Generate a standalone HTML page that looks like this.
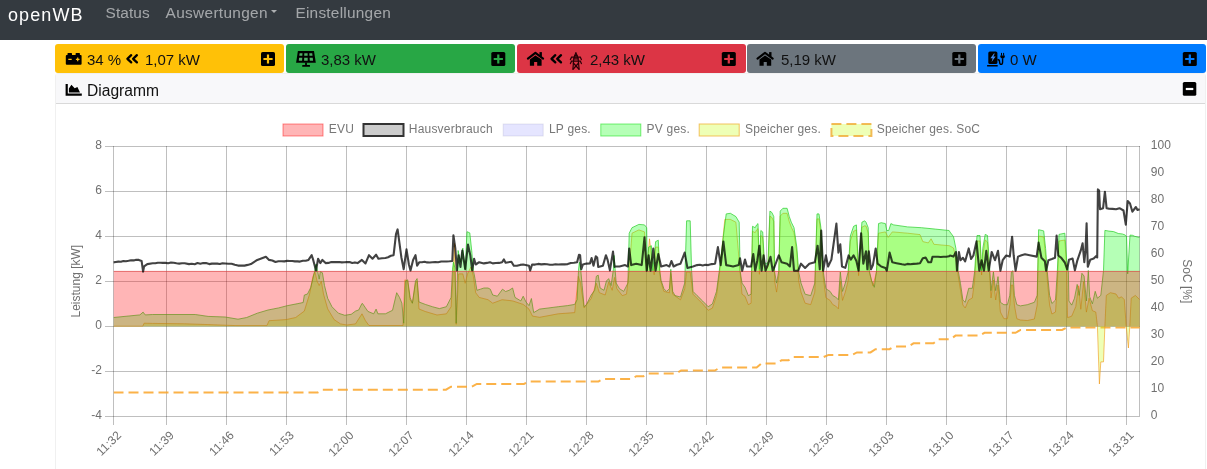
<!DOCTYPE html>
<html><head><meta charset="utf-8">
<style>
html,body{margin:0;padding:0;background:#fff;}
body{width:1207px;height:469px;overflow:hidden;position:relative;font-family:"Liberation Sans",Arial,sans-serif;}
.nav{position:absolute;left:0;top:0;width:1207px;height:40px;background:#343a40;}
.brand{position:absolute;left:8px;top:4px;font-size:18px;line-height:22px;letter-spacing:1.1px;color:#fff;}
.nl{position:absolute;top:3.4px;font-size:15.4px;line-height:20px;color:rgba(255,255,255,.55);}
.caret{position:absolute;left:271.1px;top:10.4px;width:0;height:0;border-left:3.85px solid transparent;border-right:3.85px solid transparent;border-top:3.8px solid rgba(255,255,255,.6);}
.box{position:absolute;top:44px;height:29px;border-radius:3px;}
.bt{position:absolute;top:6px;font-size:15px;line-height:18px;color:#111;white-space:nowrap;}
.ic{position:absolute;}
.card{position:absolute;left:55px;top:73px;width:1149px;height:400px;border:1px solid #f0f0f0;border-radius:3px;background:#fff;}
.ch{position:absolute;left:0;top:0;width:1149px;height:29px;background:#f8f8fa;border-bottom:1px solid #d9d9d9;}
.cht{position:absolute;left:31px;top:7px;font-size:15.6px;line-height:20px;color:#111;}
svg text{font-family:"Liberation Sans",Arial,sans-serif;}
#chart,.nav,.bt,.card{will-change:transform;}
</style></head>
<body>
<div class="nav">
  <div class="brand">openWB</div>
  <div class="nl" style="left:105.6px;letter-spacing:0.1px">Status</div>
  <div class="nl" style="left:165.6px;letter-spacing:0.32px">Auswertungen</div>
  <div class="caret"></div>
  <div class="nl" style="left:295.4px;letter-spacing:0.25px">Einstellungen</div>
</div>

<!-- boxes -->
<div class="box" style="left:55px;width:229px;background:#ffc107"></div>
<div class="box" style="left:285.5px;width:229.5px;background:#28a745"></div>
<div class="box" style="left:516.5px;width:229px;background:#dc3545"></div>
<div class="box" style="left:747px;width:229px;background:#6c757d"></div>
<div class="box" style="left:977.5px;width:228.8px;background:#007bff"></div>

<div class="bt" style="left:86.5px;top:50.5px">34 %</div>
<div class="bt" style="left:144.5px;top:50.5px">1,07 kW</div>
<div class="bt" style="left:320.5px;top:50.5px">3,83 kW</div>
<div class="bt" style="left:589.5px;top:50.5px">2,43 kW</div>
<div class="bt" style="left:780.5px;top:50.5px">5,19 kW</div>
<div class="bt" style="left:1010px;top:50.5px">0 W</div>

<div class="card">
  <div class="ch"><div class="cht">Diagramm</div></div>
</div>

<svg id="icons" width="1207" height="469" viewBox="0 0 1207 469" style="position:absolute;left:0;top:0">
  <!-- battery -->
  <g fill="#000">
    <rect x="65.8" y="55" width="15.8" height="9.7" rx="1"/>
    <rect x="67.5" y="53.1" width="4.5" height="2.6" rx="0.6"/>
    <rect x="75.6" y="53.1" width="4.3" height="2.6" rx="0.6"/>
  </g>
  <path d="M68.3 59.4h3.4M75.9 59.4h3.6M77.7 57.6v3.6" stroke="#ffc107" stroke-width="1.2"/>
  <!-- double angle left -->
  <path d="M131.2 55.2L127.4 58.8L131.2 62.4M136.9 55.2L133.1 58.8L136.9 62.4" stroke="#000" stroke-width="2.3" fill="none" stroke-linecap="round" stroke-linejoin="round"/>
  <!-- solar panel -->
  <path d="M297.9 51.1H314L315.8 62.8H296.1Z" fill="#000"/>
  <g fill="#4caf63">
    <path d="M299.6 53.2h2.9l-0.2 2.6h-3z"/><path d="M304.3 53.2h3.3v2.6h-3.4z"/><path d="M309.3 53.2h2.9l0.3 2.6h-3.1z"/>
    <path d="M299.1 57.8h3.2l-0.2 3h-3.3z"/><path d="M304.2 57.8h3.5v3h-3.6z"/><path d="M309.6 57.8h3.1l0.4 3h-3.3z"/>
  </g>
  <rect x="305.1" y="62.5" width="1.8" height="2.8" fill="#000"/>
  <rect x="302.2" y="64.9" width="7.8" height="1.9" rx="0.5" fill="#000"/>
  <!-- house (red box) -->
  <g>
    <path d="M527.9 58.6L535.4 52.9L543.1 58.6" stroke="#000" stroke-width="2.1" fill="none" stroke-linecap="round" stroke-linejoin="round"/>
    <rect x="539.5" y="52.1" width="2.4" height="4.6" fill="#000"/>
    <path d="M529.9 59.6L535.4 55.4L541.6 59.6V65.7H537.2V62.1H534.1V65.7H529.9Z" fill="#000"/>
  </g>
  <path d="M555.3 55.2L551.5 58.8L555.3 62.4M561 55.2L557.2 58.8L561 62.4" stroke="#000" stroke-width="2.3" fill="none" stroke-linecap="round" stroke-linejoin="round"/>
  <!-- pylon -->
  <g stroke="#2a0006" stroke-width="1.2" fill="none" stroke-linecap="round">
    <path d="M575.9 52.6L573.8 58.5L572.9 69.3M575.9 52.6L578.1 58.5L579.1 69.3"/>
    <path d="M574.6 55.3h2.6M574.2 57h3.4M573.9 58.8h4.1"/>
    <path d="M570.4 59.6L571.6 57.2H580.3L581.4 59.6"/>
    <path d="M570.4 63.6L571.6 61.2H580.3L581.4 63.6"/>
    <path d="M573.3 63L578.8 69M578.6 63L573.3 69"/>
  </g>
  <!-- house (gray box) -->
  <g transform="translate(229.6 0)">
    <path d="M527.9 58.6L535.4 52.9L543.1 58.6" stroke="#000" stroke-width="2.1" fill="none" stroke-linecap="round" stroke-linejoin="round"/>
    <rect x="539.5" y="52.1" width="2.4" height="4.6" fill="#000"/>
    <path d="M529.9 59.6L535.4 55.4L541.6 59.6V65.7H537.2V62.1H534.1V65.7H529.9Z" fill="#000"/>
  </g>
  <!-- charging station -->
  <g fill="#000">
    <rect x="988.3" y="51.4" width="9.1" height="12.6" rx="1.6"/>
    <rect x="987.1" y="65" width="10.6" height="1.5"/>
    <path d="M1000.3 55.4H1004.8V56.6Q1004.8 58.6 1002.6 58.6Q1000.3 58.6 1000.3 56.6Z"/>
    <rect x="1001" y="52.9" width="1" height="2.8"/><rect x="1003.1" y="52.9" width="1" height="2.8"/>
  </g>
  <path d="M993.9 53.4L990.4 58.3H992.6L991.6 61.9L995.6 56.6H993.4L994.8 53.4Z" fill="#3d8af0"/>
  <path d="M997.4 59.5Q999.6 59.5 999.6 62Q999.6 64.4 1001.1 64.4Q1002.6 64.4 1002.6 62V58.3" stroke="#000" stroke-width="1.4" fill="none"/>
  <!-- chart-area icon -->
  <path d="M65.6 84h2.2v9.6h14v2.1h-16.2z" fill="#000"/>
  <path d="M68.9 92.5V88.4L71.4 84.8L74.7 88.3L77.4 86.9L80 92.5Z" fill="#000"/>
  <!-- plus squares -->
  <g fill="#000">
    <rect x="261" y="52" width="14" height="14" rx="1.6"/>
    <rect x="491.3" y="52" width="14" height="14" rx="1.6"/>
    <rect x="721.8" y="52" width="14" height="14" rx="1.6"/>
    <rect x="952.3" y="52" width="14" height="14" rx="1.6"/>
    <rect x="1182.8" y="52" width="14" height="14" rx="1.6"/>
    <rect x="1182.8" y="82" width="13.5" height="13.8" rx="1.6"/>
  </g>
  <g stroke-width="2.2">
    <path d="M268 54.6v8.8M263.4 59h9.2" stroke="#ffc107"/>
    <path d="M498.3 54.6v8.8M493.7 59h9.2" stroke="#28a745"/>
    <path d="M728.8 54.6v8.8M724.2 59h9.2" stroke="#dc3545"/>
    <path d="M959.3 54.6v8.8M954.7 59h9.2" stroke="#6c757d"/>
    <path d="M1189.8 54.6v8.8M1185.2 59h9.2" stroke="#007bff"/>
    <path d="M1185.8 89h7.5" stroke="#fff"/>
  </g>
</svg>

<svg id="chart" width="1207" height="469" viewBox="0 0 1207 469" style="position:absolute;left:0;top:0">
<g stroke="rgba(0,0,0,0.25)" stroke-width="1" fill="none" shape-rendering="crispEdges">
<path d="M104.5 146.2H1139.8"/>
<path d="M104.5 191.2H1139.8"/>
<path d="M104.5 236.2H1139.8"/>
<path d="M104.5 281.2H1139.8"/>
<path d="M104.5 326.2H1139.8"/>
<path d="M104.5 371.2H1139.8"/>
<path d="M104.5 416.2H1139.8"/>
<path d="M113.6 146.2V424.5"/>
<path d="M166.4 146.2V424.5"/>
<path d="M226.4 146.2V424.5"/>
<path d="M286.4 146.2V424.5"/>
<path d="M346.3 146.2V424.5"/>
<path d="M406.3 146.2V424.5"/>
<path d="M466.3 146.2V424.5"/>
<path d="M526.3 146.2V424.5"/>
<path d="M586.3 146.2V424.5"/>
<path d="M646.2 146.2V424.5"/>
<path d="M706.2 146.2V424.5"/>
<path d="M766.2 146.2V424.5"/>
<path d="M826.2 146.2V424.5"/>
<path d="M886.2 146.2V424.5"/>
<path d="M946.1 146.2V424.5"/>
<path d="M1006.1 146.2V424.5"/>
<path d="M1066.1 146.2V424.5"/>
<path d="M1126.1 146.2V424.5"/>
<path d="M1139.8 146.2V416.2"/>
</g>
<defs><clipPath id="plotclip"><rect x="113.5" y="140" width="1027.3" height="280"/></clipPath></defs><g clip-path="url(#plotclip)">
<path d="M113.5 392.4 L317.8 392.4 L322.8 389.7 L446.0 389.7 L451.0 386.7 L471.8 386.7 L476.8 383.9 L524.0 383.9 L529.0 381.5 L598.5 381.5 L603.5 378.9 L631.4 378.9 L636.4 376.2 L643.5 376.2 L648.5 373.5 L676.1 373.5 L681.1 370.5 L714.9 370.5 L719.9 367.6 L756.6 367.6 L761.6 363.4 L776.5 363.4 L781.5 360.3 L788.5 360.3 L793.5 357.1 L823.5 357.1 L828.5 354.9 L852.0 354.9 L857.0 352.4 L870.5 352.4 L875.5 349.2 L889.5 349.2 L894.5 346.4 L908.5 346.4 L913.5 343.3 L933.5 343.3 L938.5 339.2 L950.5 339.2 L955.5 335.6 L979.5 335.6 L984.5 332.8 L1015.5 332.8 L1020.5 330.0 L1062.1 330.0 L1067.1 327.5 L1139.8 327.5" fill="none" stroke="rgba(250,165,40,0.85)" stroke-width="2" stroke-dasharray="10 5"/>
<path d="M113.5,326.2 L113.5,326.2 142.8,326.2 144.1,323.2 152.7,323.4 184.7,323.8 206.0,324.5 227.3,325.3 236.0,325.6 266.9,325.6 269.1,320.7 286.1,319.6 295.7,317.5 304.3,311.1 309.6,294.0 312.8,276.9 314.9,271.6 317.1,281.2 319.2,285.5 321.3,281.2 323.5,294.0 327.7,308.9 334.1,319.6 340.5,323.9 346.9,325.0 355.5,323.9 362.0,313.8 365.5,320.8 369.0,325.5 403.0,325.5 404.9,279.8 407.7,281.0 410.1,299.7 412.4,303.2 415.5,283.3 417.1,281.0 419.0,309.0 425.3,311.5 437.0,315.0 446.4,313.8 451.1,306.8 453.0,276.3 454.6,243.4 456.2,324.3 458.6,273.9 462.8,273.9 465.2,283.3 467.5,273.9 471.0,266.9 473.4,276.3 475.7,292.7 479.2,297.4 488.0,299.7 492.7,303.2 502.1,299.7 512.6,300.9 523.2,304.4 529.0,309.1 532.5,316.1 539.6,317.3 558.3,313.8 574.7,312.6 578.3,276.3 580.6,283.3 584.1,307.9 591.2,298.5 596.3,283.3 599.4,292.7 605.2,295.0 608.7,282.1 612.2,290.3 614.6,277.4 616.8,288.7 622.3,295.6 626.5,294.2 629.2,270.7 632.0,233.2 638.9,229.9 644.5,231.9 646.7,270.7 649.5,238.8 651.4,255.4 654.2,274.8 655.6,247.1 658.3,247.1 660.5,280.4 663.9,291.4 669.4,292.8 670.8,273.4 672.7,294.2 680.5,299.8 684.7,288.7 686.6,272.0 690.2,272.0 693.0,294.2 702.7,303.9 708.2,310.3 712.4,308.1 716.5,295.6 719.3,274.8 724.8,219.4 730.4,219.4 735.9,222.2 740.1,272.0 742.0,294.2 745.0,296.3 748.3,304.6 751.1,303.2 752.5,231.3 755.2,232.7 756.6,229.9 758.0,228.6 759.4,274.3 760.8,235.5 762.7,236.9 764.4,267.0 766.3,269.0 768.0,267.0 769.9,216.1 771.9,217.5 773.8,221.6 774.6,281.0 776.6,292.1 778.8,275.7 780.2,216.1 782.9,213.3 787.1,213.3 789.3,221.6 791.3,227.2 794.0,232.7 796.8,252.1 798.7,281.0 801.0,292.1 805.1,303.2 810.7,304.6 814.8,292.1 817.0,218.9 819.0,218.9 820.9,232.7 823.1,275.7 825.9,297.7 830.1,300.4 832.8,304.6 835.6,306.0 838.4,308.8 840.3,281.0 842.5,300.4 845.3,292.1 848.1,281.0 850.3,241.0 853.6,231.3 856.4,229.9 858.6,275.7 861.9,227.2 864.7,225.8 866.0,226.0 868.2,233.0 869.3,272.0 872.9,285.9 876.5,272.0 878.5,233.2 885.4,231.9 888.2,237.4 892.3,231.9 907.6,233.2 920.0,234.6 922.8,241.6 928.3,242.9 931.1,238.8 933.9,244.3 949.1,245.7 950.0,246.0 953.5,248.0 955.9,258.0 958.2,276.0 960.5,290.0 962.9,305.0 965.2,308.0 968.7,300.0 972.3,298.0 974.6,280.0 977.0,241.0 980.0,241.0 981.6,275.0 982.8,255.0 985.2,240.0 987.5,242.0 989.8,276.0 991.0,298.0 993.4,280.0 995.7,300.0 998.0,285.0 1000.4,312.0 1003.9,318.7 1007.4,318.7 1009.8,305.0 1011.4,285.0 1012.8,285.0 1014.4,305.0 1016.8,318.7 1020.3,320.0 1027.3,320.5 1034.4,319.0 1037.2,305.0 1038.6,236.0 1043.7,237.0 1045.6,256.0 1047.3,280.0 1049.6,305.0 1051.9,314.0 1055.5,312.0 1057.3,285.0 1059.0,241.0 1064.8,240.0 1066.7,268.0 1067.5,317.6 1071.7,316.2 1075.8,306.5 1078.6,285.8 1080.8,309.3 1083.6,281.6 1086.4,312.1 1089.1,298.2 1092.4,310.7 1095.8,312.1 1097.4,325.9 1099.4,384.0 1100.8,361.9 1103.5,361.9 1104.9,325.9 1106.3,295.4 1110.4,292.7 1116.0,294.0 1118.7,298.2 1121.5,296.8 1124.3,299.6 1126.2,325.9 1128.4,348.0 1129.8,325.9 1131.2,298.2 1135.4,295.4 1139.6,299.6 L1139.6,326.2 Z" fill="rgba(200,255,13,0.3)"/>
<polyline points="113.5,326.2 142.8,326.2 144.1,323.2 152.7,323.4 184.7,323.8 206.0,324.5 227.3,325.3 236.0,325.6 266.9,325.6 269.1,320.7 286.1,319.6 295.7,317.5 304.3,311.1 309.6,294.0 312.8,276.9 314.9,271.6 317.1,281.2 319.2,285.5 321.3,281.2 323.5,294.0 327.7,308.9 334.1,319.6 340.5,323.9 346.9,325.0 355.5,323.9 362.0,313.8 365.5,320.8 369.0,325.5 403.0,325.5 404.9,279.8 407.7,281.0 410.1,299.7 412.4,303.2 415.5,283.3 417.1,281.0 419.0,309.0 425.3,311.5 437.0,315.0 446.4,313.8 451.1,306.8 453.0,276.3 454.6,243.4 456.2,324.3 458.6,273.9 462.8,273.9 465.2,283.3 467.5,273.9 471.0,266.9 473.4,276.3 475.7,292.7 479.2,297.4 488.0,299.7 492.7,303.2 502.1,299.7 512.6,300.9 523.2,304.4 529.0,309.1 532.5,316.1 539.6,317.3 558.3,313.8 574.7,312.6 578.3,276.3 580.6,283.3 584.1,307.9 591.2,298.5 596.3,283.3 599.4,292.7 605.2,295.0 608.7,282.1 612.2,290.3 614.6,277.4 616.8,288.7 622.3,295.6 626.5,294.2 629.2,270.7 632.0,233.2 638.9,229.9 644.5,231.9 646.7,270.7 649.5,238.8 651.4,255.4 654.2,274.8 655.6,247.1 658.3,247.1 660.5,280.4 663.9,291.4 669.4,292.8 670.8,273.4 672.7,294.2 680.5,299.8 684.7,288.7 686.6,272.0 690.2,272.0 693.0,294.2 702.7,303.9 708.2,310.3 712.4,308.1 716.5,295.6 719.3,274.8 724.8,219.4 730.4,219.4 735.9,222.2 740.1,272.0 742.0,294.2 745.0,296.3 748.3,304.6 751.1,303.2 752.5,231.3 755.2,232.7 756.6,229.9 758.0,228.6 759.4,274.3 760.8,235.5 762.7,236.9 764.4,267.0 766.3,269.0 768.0,267.0 769.9,216.1 771.9,217.5 773.8,221.6 774.6,281.0 776.6,292.1 778.8,275.7 780.2,216.1 782.9,213.3 787.1,213.3 789.3,221.6 791.3,227.2 794.0,232.7 796.8,252.1 798.7,281.0 801.0,292.1 805.1,303.2 810.7,304.6 814.8,292.1 817.0,218.9 819.0,218.9 820.9,232.7 823.1,275.7 825.9,297.7 830.1,300.4 832.8,304.6 835.6,306.0 838.4,308.8 840.3,281.0 842.5,300.4 845.3,292.1 848.1,281.0 850.3,241.0 853.6,231.3 856.4,229.9 858.6,275.7 861.9,227.2 864.7,225.8 866.0,226.0 868.2,233.0 869.3,272.0 872.9,285.9 876.5,272.0 878.5,233.2 885.4,231.9 888.2,237.4 892.3,231.9 907.6,233.2 920.0,234.6 922.8,241.6 928.3,242.9 931.1,238.8 933.9,244.3 949.1,245.7 950.0,246.0 953.5,248.0 955.9,258.0 958.2,276.0 960.5,290.0 962.9,305.0 965.2,308.0 968.7,300.0 972.3,298.0 974.6,280.0 977.0,241.0 980.0,241.0 981.6,275.0 982.8,255.0 985.2,240.0 987.5,242.0 989.8,276.0 991.0,298.0 993.4,280.0 995.7,300.0 998.0,285.0 1000.4,312.0 1003.9,318.7 1007.4,318.7 1009.8,305.0 1011.4,285.0 1012.8,285.0 1014.4,305.0 1016.8,318.7 1020.3,320.0 1027.3,320.5 1034.4,319.0 1037.2,305.0 1038.6,236.0 1043.7,237.0 1045.6,256.0 1047.3,280.0 1049.6,305.0 1051.9,314.0 1055.5,312.0 1057.3,285.0 1059.0,241.0 1064.8,240.0 1066.7,268.0 1067.5,317.6 1071.7,316.2 1075.8,306.5 1078.6,285.8 1080.8,309.3 1083.6,281.6 1086.4,312.1 1089.1,298.2 1092.4,310.7 1095.8,312.1 1097.4,325.9 1099.4,384.0 1100.8,361.9 1103.5,361.9 1104.9,325.9 1106.3,295.4 1110.4,292.7 1116.0,294.0 1118.7,298.2 1121.5,296.8 1124.3,299.6 1126.2,325.9 1128.4,348.0 1129.8,325.9 1131.2,298.2 1135.4,295.4 1139.6,299.6" fill="none" stroke="rgba(240,150,20,0.6)" stroke-width="1"/>
<path d="M113.5,326.2 L113.5,317.5 139.9,314.9 143.1,312.1 145.2,314.9 152.7,314.5 195.3,314.5 208.1,316.4 225.2,317.0 238.0,319.2 246.7,317.5 257.3,313.2 268.0,310.0 278.7,307.9 287.2,305.7 297.9,303.6 303.2,302.5 304.3,295.1 307.5,294.0 310.7,287.6 312.8,279.1 314.5,271.6 316.0,264.1 317.7,271.6 319.2,279.1 320.3,271.6 322.4,272.7 324.5,285.5 327.7,298.3 332.0,306.8 338.4,313.2 344.8,315.3 351.2,314.3 355.5,311.1 358.7,310.0 361.9,303.6 362.5,303.5 365.5,307.9 367.9,311.4 373.7,313.8 376.1,309.1 377.9,313.8 385.4,313.8 392.5,310.3 396.7,292.7 399.5,297.4 401.9,303.2 403.7,323.2 405.4,281.0 407.7,279.8 410.1,297.4 412.4,303.2 415.5,281.0 417.1,278.6 419.0,302.0 425.3,304.4 432.3,306.7 439.4,308.6 446.4,306.7 451.1,297.4 452.5,269.2 453.4,262.2 455.0,268.0 456.2,323.2 458.1,250.5 460.5,262.2 462.8,248.1 465.2,269.2 467.0,231.7 469.8,232.9 471.7,250.5 473.4,270.4 475.0,278.6 476.9,290.3 480.4,289.2 483.9,288.0 488.0,288.0 490.3,289.2 492.7,295.0 497.4,296.2 502.5,289.2 505.6,291.5 509.1,290.3 512.6,288.0 515.0,297.4 520.8,300.9 523.2,296.2 526.0,302.0 529.0,305.6 531.4,298.5 533.7,312.6 539.6,309.1 549.0,307.9 558.3,306.7 567.7,305.6 574.7,304.4 577.1,299.7 578.5,270.4 579.4,262.2 580.8,270.4 582.2,285.6 584.1,306.7 586.5,304.4 591.2,295.0 594.7,290.3 596.3,276.3 598.2,275.1 600.1,288.0 604.0,290.3 606.4,281.0 608.7,278.6 611.1,285.6 613.4,269.2 614.0,255.4 616.2,283.1 619.5,288.7 623.7,291.4 627.9,283.1 629.2,233.2 632.0,227.7 638.9,224.4 644.5,224.9 646.7,227.7 647.3,270.7 648.6,247.1 651.4,245.7 652.8,270.7 655.6,241.6 658.3,240.2 659.7,270.7 661.1,280.4 663.9,288.7 666.6,291.4 669.4,288.7 670.8,269.3 672.7,291.4 675.0,295.6 680.5,297.0 684.7,283.1 686.6,220.8 690.2,220.8 691.6,270.7 693.0,291.4 697.1,295.6 702.7,301.1 708.2,306.7 712.4,303.9 716.5,291.4 719.3,270.7 723.4,236.0 726.2,213.9 730.4,213.3 735.9,216.6 739.2,222.2 740.1,270.7 742.0,283.1 745.0,287.3 748.3,295.6 751.1,294.2 752.5,226.3 755.2,227.7 756.6,224.9 758.0,223.6 759.4,269.3 760.8,230.5 762.7,231.9 764.4,262.0 766.3,264.0 768.0,262.0 769.9,211.1 771.9,212.5 773.8,216.6 774.6,272.0 776.6,283.1 778.8,270.7 780.2,211.1 782.9,208.3 787.1,208.3 789.3,216.6 791.3,222.2 794.0,227.7 796.8,247.1 798.7,272.0 801.0,283.1 805.1,294.2 810.7,295.6 814.8,283.1 817.0,213.9 819.0,213.9 820.9,227.7 823.1,270.7 825.9,288.7 830.1,291.4 832.8,295.6 835.6,297.0 838.4,299.8 840.3,272.0 842.5,291.4 845.3,283.1 848.1,272.0 850.3,236.0 853.6,226.3 856.4,224.9 858.6,270.7 861.9,222.2 864.7,220.8 866.0,222.2 868.2,227.7 869.3,270.7 871.5,280.4 874.3,287.3 876.5,270.7 878.5,223.6 881.2,222.7 885.4,223.6 886.8,230.5 888.7,230.5 890.9,223.6 893.7,224.9 907.6,226.9 921.4,227.7 935.3,229.1 949.1,230.5 950.0,232.0 953.5,236.7 955.9,248.4 958.2,270.7 960.5,283.6 962.9,300.0 965.2,302.3 968.7,288.3 972.3,288.3 974.6,271.9 977.0,235.5 980.0,235.5 981.6,270.7 982.8,248.4 985.2,234.4 987.5,235.5 989.8,270.7 991.0,290.6 993.4,271.9 995.7,290.6 998.0,276.6 1000.4,302.3 1003.9,304.7 1007.4,304.7 1009.8,295.3 1011.4,271.9 1012.8,270.7 1014.4,295.3 1016.8,304.7 1020.3,305.9 1027.3,304.7 1034.4,302.3 1037.2,295.3 1038.6,229.7 1043.7,230.9 1045.6,248.4 1047.3,271.9 1049.6,295.3 1051.9,303.5 1055.5,300.0 1057.3,271.9 1059.0,234.4 1064.8,233.2 1066.7,260.2 1068.4,271.9 1068.9,301.0 1071.7,305.1 1074.5,298.2 1077.2,284.4 1079.2,295.4 1081.9,273.3 1084.1,276.1 1086.4,301.0 1088.3,270.5 1089.7,296.8 1092.4,303.8 1095.2,291.3 1097.4,298.2 1100.8,295.4 1103.5,270.5 1104.9,230.4 1108.9,231.1 1113.6,231.6 1118.3,233.5 1122.5,234.0 1125.3,235.1 1126.5,236.3 1127.7,273.8 1130.0,235.1 1132.5,235.3 1134.7,236.3 1139.6,237.5 L1139.6,326.2 Z" fill="rgba(10,255,13,0.3)"/>
<polyline points="113.5,317.5 139.9,314.9 143.1,312.1 145.2,314.9 152.7,314.5 195.3,314.5 208.1,316.4 225.2,317.0 238.0,319.2 246.7,317.5 257.3,313.2 268.0,310.0 278.7,307.9 287.2,305.7 297.9,303.6 303.2,302.5 304.3,295.1 307.5,294.0 310.7,287.6 312.8,279.1 314.5,271.6 316.0,264.1 317.7,271.6 319.2,279.1 320.3,271.6 322.4,272.7 324.5,285.5 327.7,298.3 332.0,306.8 338.4,313.2 344.8,315.3 351.2,314.3 355.5,311.1 358.7,310.0 361.9,303.6 362.5,303.5 365.5,307.9 367.9,311.4 373.7,313.8 376.1,309.1 377.9,313.8 385.4,313.8 392.5,310.3 396.7,292.7 399.5,297.4 401.9,303.2 403.7,323.2 405.4,281.0 407.7,279.8 410.1,297.4 412.4,303.2 415.5,281.0 417.1,278.6 419.0,302.0 425.3,304.4 432.3,306.7 439.4,308.6 446.4,306.7 451.1,297.4 452.5,269.2 453.4,262.2 455.0,268.0 456.2,323.2 458.1,250.5 460.5,262.2 462.8,248.1 465.2,269.2 467.0,231.7 469.8,232.9 471.7,250.5 473.4,270.4 475.0,278.6 476.9,290.3 480.4,289.2 483.9,288.0 488.0,288.0 490.3,289.2 492.7,295.0 497.4,296.2 502.5,289.2 505.6,291.5 509.1,290.3 512.6,288.0 515.0,297.4 520.8,300.9 523.2,296.2 526.0,302.0 529.0,305.6 531.4,298.5 533.7,312.6 539.6,309.1 549.0,307.9 558.3,306.7 567.7,305.6 574.7,304.4 577.1,299.7 578.5,270.4 579.4,262.2 580.8,270.4 582.2,285.6 584.1,306.7 586.5,304.4 591.2,295.0 594.7,290.3 596.3,276.3 598.2,275.1 600.1,288.0 604.0,290.3 606.4,281.0 608.7,278.6 611.1,285.6 613.4,269.2 614.0,255.4 616.2,283.1 619.5,288.7 623.7,291.4 627.9,283.1 629.2,233.2 632.0,227.7 638.9,224.4 644.5,224.9 646.7,227.7 647.3,270.7 648.6,247.1 651.4,245.7 652.8,270.7 655.6,241.6 658.3,240.2 659.7,270.7 661.1,280.4 663.9,288.7 666.6,291.4 669.4,288.7 670.8,269.3 672.7,291.4 675.0,295.6 680.5,297.0 684.7,283.1 686.6,220.8 690.2,220.8 691.6,270.7 693.0,291.4 697.1,295.6 702.7,301.1 708.2,306.7 712.4,303.9 716.5,291.4 719.3,270.7 723.4,236.0 726.2,213.9 730.4,213.3 735.9,216.6 739.2,222.2 740.1,270.7 742.0,283.1 745.0,287.3 748.3,295.6 751.1,294.2 752.5,226.3 755.2,227.7 756.6,224.9 758.0,223.6 759.4,269.3 760.8,230.5 762.7,231.9 764.4,262.0 766.3,264.0 768.0,262.0 769.9,211.1 771.9,212.5 773.8,216.6 774.6,272.0 776.6,283.1 778.8,270.7 780.2,211.1 782.9,208.3 787.1,208.3 789.3,216.6 791.3,222.2 794.0,227.7 796.8,247.1 798.7,272.0 801.0,283.1 805.1,294.2 810.7,295.6 814.8,283.1 817.0,213.9 819.0,213.9 820.9,227.7 823.1,270.7 825.9,288.7 830.1,291.4 832.8,295.6 835.6,297.0 838.4,299.8 840.3,272.0 842.5,291.4 845.3,283.1 848.1,272.0 850.3,236.0 853.6,226.3 856.4,224.9 858.6,270.7 861.9,222.2 864.7,220.8 866.0,222.2 868.2,227.7 869.3,270.7 871.5,280.4 874.3,287.3 876.5,270.7 878.5,223.6 881.2,222.7 885.4,223.6 886.8,230.5 888.7,230.5 890.9,223.6 893.7,224.9 907.6,226.9 921.4,227.7 935.3,229.1 949.1,230.5 950.0,232.0 953.5,236.7 955.9,248.4 958.2,270.7 960.5,283.6 962.9,300.0 965.2,302.3 968.7,288.3 972.3,288.3 974.6,271.9 977.0,235.5 980.0,235.5 981.6,270.7 982.8,248.4 985.2,234.4 987.5,235.5 989.8,270.7 991.0,290.6 993.4,271.9 995.7,290.6 998.0,276.6 1000.4,302.3 1003.9,304.7 1007.4,304.7 1009.8,295.3 1011.4,271.9 1012.8,270.7 1014.4,295.3 1016.8,304.7 1020.3,305.9 1027.3,304.7 1034.4,302.3 1037.2,295.3 1038.6,229.7 1043.7,230.9 1045.6,248.4 1047.3,271.9 1049.6,295.3 1051.9,303.5 1055.5,300.0 1057.3,271.9 1059.0,234.4 1064.8,233.2 1066.7,260.2 1068.4,271.9 1068.9,301.0 1071.7,305.1 1074.5,298.2 1077.2,284.4 1079.2,295.4 1081.9,273.3 1084.1,276.1 1086.4,301.0 1088.3,270.5 1089.7,296.8 1092.4,303.8 1095.2,291.3 1097.4,298.2 1100.8,295.4 1103.5,270.5 1104.9,230.4 1108.9,231.1 1113.6,231.6 1118.3,233.5 1122.5,234.0 1125.3,235.1 1126.5,236.3 1127.7,273.8 1130.0,235.1 1132.5,235.3 1134.7,236.3 1139.6,237.5" fill="none" stroke="rgba(40,205,40,0.7)" stroke-width="1"/>
<rect x="113.5" y="271.4" width="1026.3" height="54.8" fill="rgba(255,10,13,0.3)"/>
<path d="M113.5 271.4H1139.8" stroke="rgba(220,60,60,0.7)" stroke-width="1" fill="none"/>
<polyline points="113.2,262.4 115.8,262.0 118.3,261.6 120.9,261.8 123.4,261.0 126.0,261.2 128.6,260.8 131.1,260.2 133.7,260.4 136.2,259.7 138.8,259.9 141.6,260.9 143.1,271.6 144.1,266.3 147.3,264.1 152.7,263.3 155.3,263.2 157.8,262.7 160.4,262.7 162.9,262.9 165.5,262.9 168.2,263.3 171.0,262.6 173.7,262.8 176.5,263.3 179.2,263.6 182.0,263.3 184.7,263.3 189.0,264.1 191.8,263.8 194.7,264.2 197.5,263.1 200.3,263.8 203.2,263.1 206.0,263.1 209.2,264.1 211.9,263.6 214.5,263.5 217.2,263.6 219.9,264.0 222.5,263.3 225.2,263.5 228.4,263.7 231.6,263.7 234.8,264.8 238.0,265.6 241.2,265.5 244.5,265.6 247.7,264.9 250.9,264.1 257.3,259.9 265.9,256.7 269.1,259.9 272.3,260.5 275.5,262.0 278.4,261.3 281.4,261.2 284.3,261.4 287.2,260.9 289.8,261.0 292.3,261.0 294.9,261.4 297.4,261.4 300.0,261.6 302.8,260.8 305.7,260.8 308.5,259.9 311.7,255.2 313.2,259.9 316.0,270.5 318.1,258.8 320.3,263.1 322.4,259.9 325.6,263.1 328.4,262.9 331.3,262.1 334.1,262.0 336.7,262.1 339.2,262.0 341.8,262.4 344.3,262.2 346.9,262.0 349.6,262.1 352.2,263.0 354.9,262.4 357.6,263.1 361.9,259.9 365.5,263.4 369.0,255.2 372.5,258.7 376.1,254.7 378.4,258.7 381.9,258.3 385.4,258.0 388.1,257.3 390.9,255.8 393.6,255.2 396.0,234.1 397.6,229.4 399.5,243.4 401.4,257.5 403.7,269.2 406.5,249.3 408.9,264.5 410.5,270.4 413.1,259.9 415.5,255.2 417.1,265.7 419.4,262.2 422.0,262.2 424.6,261.7 427.1,262.4 429.7,262.5 432.3,262.2 435.2,262.1 438.2,262.2 441.2,261.5 444.1,261.5 446.8,261.5 449.6,261.3 452.3,261.0 453.4,235.2 455.3,248.1 456.9,270.4 458.6,255.2 460.5,266.9 462.3,250.5 465.2,269.2 468.0,244.6 470.3,255.2 472.2,270.4 474.1,258.7 475.7,264.5 479.2,262.2 483.9,263.4 486.9,262.9 490.0,262.2 492.7,263.4 495.8,263.0 499.0,262.9 502.1,262.2 503.9,259.4 505.6,262.7 511.4,261.7 513.8,265.7 516.9,265.7 520.1,264.9 523.2,264.5 529.0,265.7 530.2,270.4 532.1,264.5 535.1,264.6 538.2,263.9 541.2,264.4 544.3,264.1 547.1,264.3 549.9,264.8 552.7,264.7 555.5,264.2 558.3,264.5 561.4,264.3 564.6,264.4 567.7,264.1 570.8,263.0 574.0,262.8 577.1,262.2 579.0,254.7 580.1,255.2 581.3,269.2 582.9,264.5 586.5,263.6 590.0,263.4 591.6,258.0 593.5,265.7 595.8,256.3 597.2,257.5 598.2,266.9 602.9,265.7 605.9,255.2 607.6,259.9 609.9,270.4 613.0,251.6 614.6,266.9 615.4,266.5 619.5,266.5 625.1,265.1 627.9,266.5 629.2,248.5 631.2,265.1 636.2,263.7 641.7,265.1 644.5,237.4 646.7,270.7 648.6,255.4 650.6,270.7 653.3,248.5 655.6,270.7 658.3,254.0 661.1,266.5 666.6,265.1 669.4,266.5 671.4,261.0 673.6,266.5 677.0,264.7 680.5,263.7 684.7,252.6 687.4,267.9 693.0,266.5 697.1,265.1 699.9,264.7 702.7,265.4 705.4,264.7 708.2,265.1 711.7,264.1 715.1,263.7 717.9,247.1 720.7,265.1 723.4,241.6 726.2,265.1 729.7,265.7 733.1,266.5 738.7,265.1 740.0,258.2 742.2,270.7 745.0,259.6 746.9,266.5 751.1,266.5 753.3,254.0 755.2,270.7 757.2,261.0 759.4,245.7 761.6,270.7 763.6,255.4 765.5,270.7 767.7,265.1 770.5,256.8 772.7,270.7 774.6,266.5 778.8,255.4 781.6,262.3 787.1,263.7 789.9,266.5 792.1,247.1 794.0,270.7 798.2,270.7 801.0,263.7 805.1,267.9 809.3,263.7 814.8,262.3 817.6,245.7 819.8,269.3 821.2,230.5 823.1,270.7 825.9,255.4 828.1,266.5 831.4,259.6 836.4,223.6 838.4,252.6 840.3,244.3 842.0,266.5 845.3,267.9 848.6,255.4 850.8,259.6 853.6,255.4 856.4,261.0 858.6,270.7 861.1,233.2 863.3,263.7 866.0,251.3 867.4,269.3 868.8,251.3 871.0,269.3 872.9,265.1 875.7,248.5 877.6,263.7 881.2,266.5 885.4,267.9 886.8,270.7 889.6,252.6 892.3,262.3 896.5,263.2 902.0,264.3 904.8,264.7 907.5,263.9 910.3,264.3 913.5,263.9 916.8,263.6 920.0,263.2 922.8,258.2 925.6,257.6 928.3,262.3 931.1,262.3 932.5,256.8 938.0,256.8 940.8,257.0 943.5,256.8 946.3,256.7 949.1,256.2 950.0,255.5 953.5,256.6 955.9,252.0 957.0,270.7 958.9,252.0 960.5,260.2 962.9,257.8 965.2,261.3 968.7,248.4 971.1,259.0 973.4,255.5 976.5,241.4 979.3,270.7 981.6,260.2 984.0,270.7 986.3,250.8 988.7,270.7 991.7,252.0 995.0,260.2 998.0,250.8 1000.4,270.7 1002.7,260.2 1006.2,255.5 1009.8,256.6 1012.1,236.7 1013.7,255.5 1015.6,270.7 1018.0,256.6 1021.5,255.2 1025.0,254.3 1030.9,255.5 1036.7,256.6 1038.6,242.6 1041.4,257.8 1044.9,261.3 1046.1,270.7 1048.4,260.2 1051.9,259.0 1055.0,257.8 1056.6,235.5 1058.3,255.5 1061.3,257.8 1064.8,262.5 1067.2,269.5 1069.0,259.8 1072.6,258.6 1074.9,270.3 1077.2,260.9 1080.8,250.4 1082.6,243.3 1084.3,262.1 1085.5,250.4 1086.6,223.4 1087.8,266.8 1090.2,259.8 1093.7,258.6 1096.0,256.2 1097.2,257.4 1097.9,189.4 1099.1,190.6 1100.0,209.3 1103.1,208.2 1104.9,191.7 1106.6,208.2 1108.9,208.6 1112.5,208.9 1116.0,209.3 1119.5,208.2 1123.5,210.5 1125.8,224.6 1127.7,201.1 1130.0,203.5 1132.4,211.7 1135.9,207.0 1137.5,210.0 1139.6,209.3" fill="none" stroke="rgba(0,0,0,0.74)" stroke-width="2.1" stroke-linejoin="round"/>
</g>
<g font-size="12" fill="#707070">
<text x="102" y="146.2" dy="2.7" text-anchor="end">8</text>
<text x="102" y="191.2" dy="2.7" text-anchor="end">6</text>
<text x="102" y="236.2" dy="2.7" text-anchor="end">4</text>
<text x="102" y="281.2" dy="2.7" text-anchor="end">2</text>
<text x="102" y="326.2" dy="2.7" text-anchor="end">0</text>
<text x="102" y="371.2" dy="2.7" text-anchor="end">-2</text>
<text x="102" y="416.2" dy="2.7" text-anchor="end">-4</text>
<text x="1150.8" y="146.2" dy="2.7">100</text>
<text x="1150.8" y="173.2" dy="2.7">90</text>
<text x="1150.8" y="200.2" dy="2.7">80</text>
<text x="1150.8" y="227.2" dy="2.7">70</text>
<text x="1150.8" y="254.2" dy="2.7">60</text>
<text x="1150.8" y="281.2" dy="2.7">50</text>
<text x="1150.8" y="308.2" dy="2.7">40</text>
<text x="1150.8" y="335.2" dy="2.7">30</text>
<text x="1150.8" y="362.2" dy="2.7">20</text>
<text x="1150.8" y="389.2" dy="2.7">10</text>
<text x="1150.8" y="416.2" dy="2.7">0</text>
<text transform="translate(118.8 432.9) rotate(-45)" dy="4.3" text-anchor="end">11:32</text>
<text transform="translate(171.6 432.9) rotate(-45)" dy="4.3" text-anchor="end">11:39</text>
<text transform="translate(231.6 432.9) rotate(-45)" dy="4.3" text-anchor="end">11:46</text>
<text transform="translate(291.6 432.9) rotate(-45)" dy="4.3" text-anchor="end">11:53</text>
<text transform="translate(351.5 432.9) rotate(-45)" dy="4.3" text-anchor="end">12:00</text>
<text transform="translate(411.5 432.9) rotate(-45)" dy="4.3" text-anchor="end">12:07</text>
<text transform="translate(471.5 432.9) rotate(-45)" dy="4.3" text-anchor="end">12:14</text>
<text transform="translate(531.5 432.9) rotate(-45)" dy="4.3" text-anchor="end">12:21</text>
<text transform="translate(591.5 432.9) rotate(-45)" dy="4.3" text-anchor="end">12:28</text>
<text transform="translate(651.4 432.9) rotate(-45)" dy="4.3" text-anchor="end">12:35</text>
<text transform="translate(711.4 432.9) rotate(-45)" dy="4.3" text-anchor="end">12:42</text>
<text transform="translate(771.4 432.9) rotate(-45)" dy="4.3" text-anchor="end">12:49</text>
<text transform="translate(831.4 432.9) rotate(-45)" dy="4.3" text-anchor="end">12:56</text>
<text transform="translate(891.4 432.9) rotate(-45)" dy="4.3" text-anchor="end">13:03</text>
<text transform="translate(951.3 432.9) rotate(-45)" dy="4.3" text-anchor="end">13:10</text>
<text transform="translate(1011.3 432.9) rotate(-45)" dy="4.3" text-anchor="end">13:17</text>
<text transform="translate(1071.3 432.9) rotate(-45)" dy="4.3" text-anchor="end">13:24</text>
<text transform="translate(1131.3 432.9) rotate(-45)" dy="4.3" text-anchor="end">13:31</text>
<text transform="translate(80.3 281.2) rotate(-90)" text-anchor="middle">Leistung [kW]</text>
<text transform="translate(1182.5 281.2) rotate(90)" text-anchor="middle">SoC [%]</text>
</g>
<rect x="283.0" y="124" width="40" height="12" fill="rgba(255,10,13,0.3)" stroke="rgba(255,0,0,0.45)" stroke-width="1"/>
<text x="328.8" y="133" font-size="12" letter-spacing="0.2" fill="#777">EVU</text>
<rect x="363.5" y="124" width="40" height="12" fill="rgba(0,0,0,0.2)" stroke="#333" stroke-width="2"/>
<text x="408.8" y="133" font-size="12" letter-spacing="0.2" fill="#777">Hausverbrauch</text>
<rect x="503.2" y="124" width="40" height="12" fill="rgba(0,0,255,0.1)" stroke="rgba(50,50,120,0.12)" stroke-width="1"/>
<text x="549.0" y="133" font-size="12" letter-spacing="0.2" fill="#777">LP ges.</text>
<rect x="600.8" y="124" width="40" height="12" fill="rgba(10,255,13,0.3)" stroke="rgba(0,220,0,0.5)" stroke-width="1"/>
<text x="646.6" y="133" font-size="12" letter-spacing="0.2" fill="#777">PV ges.</text>
<rect x="699.2" y="124" width="40" height="12" fill="rgba(200,255,13,0.3)" stroke="rgba(240,180,60,0.8)" stroke-width="1"/>
<text x="745.0" y="133" font-size="12" letter-spacing="0.2" fill="#777">Speicher ges.</text>
<rect x="831.4" y="124" width="40" height="12" fill="rgba(200,255,13,0.3)" stroke="rgba(240,170,50,0.8)" stroke-width="2" stroke-dasharray="10 5"/>
<text x="876.7" y="133" font-size="12" letter-spacing="0.2" fill="#777">Speicher ges. SoC</text>
</svg>
</body></html>
